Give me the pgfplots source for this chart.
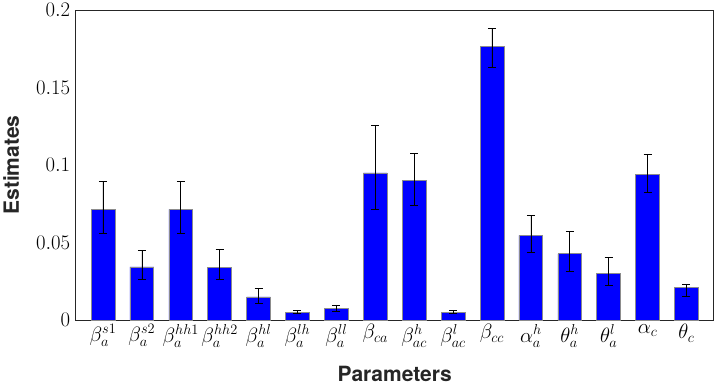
\documentclass[border=0pt]{standalone}
\usepackage{fontspec}
\setmainfont{TeX Gyre Heros}
\usepackage{pgfplots}
\pgfplotsset{compat=1.18}
\begin{document}
\begin{tikzpicture}
\begin{axis}[
  scale only axis,
  width=636bp, height=309bp,
  xmin=0.3, xmax=16.7, ymin=0, ymax=0.2,
  xtick={1,...,16},
  xticklabels={$\beta_a^{s1}$,$\beta_a^{s2}$,$\beta_a^{hh1}$,$\beta_a^{hh2}$,$\beta_a^{hl}$,$\beta_a^{lh}$,$\beta_a^{ll}$,$\beta_{ca}$,$\beta_{ac}^{h}$,$\beta_{ac}^{l}$,$\beta_{cc}$,$\alpha_a^{h}$,$\theta_a^{h}$,$\theta_a^{l}$,$\alpha_c$,$\theta_c$},
  ytick={0,0.05,0.1,0.15,0.2},
  yticklabels={$0$,$0.05$,$0.1$,$0.15$,$0.2$},
  major tick length=0pt,
  axis line style={draw=black!85, line width=0.6pt},
  tick label style={font=\fontsize{21}{24}\selectfont},
  xticklabel style={yshift=-1bp},
  yticklabel style={xshift=-2bp},
  label style={font=\fontsize{21}{24}\selectfont\bfseries, text=black!85},
  xlabel={Parameters},
  ylabel={Estimates},
  xlabel style={yshift=-12bp},
  ylabel style={yshift=10bp},
  clip=false,
]
\addplot[ybar, bar width=23.7bp, fill={rgb,1:red,0;green,0;blue,1}, draw=black!45, line width=0.6pt,
  error bars/.cd, y dir=both, y explicit,
  error bar style={black, line width=0.7pt},
  error mark options={black, line width=0.7pt, mark size=4bp, rotate=90}]
coordinates {
(1,0.0714) += (0,0.0179) -= (0,0.0153)
(2,0.0343) += (0,0.0108) -= (0,0.0082)
(3,0.0714) += (0,0.0179) -= (0,0.0153)
(4,0.0341) += (0,0.0114) -= (0,0.0080)
(5,0.0149) += (0,0.0052) -= (0,0.0039)
(6,0.0050) += (0,0.0010) -= (0,0.0007)
(7,0.0073) += (0,0.0024) -= (0,0.0017)
(8,0.0949) += (0,0.0305) -= (0,0.0233)
(9,0.0898) += (0,0.0179) -= (0,0.0156)
(10,0.0050) += (0,0.0010) -= (0,0.0007)
(11,0.1765) += (0,0.0118) -= (0,0.0132)
(12,0.0546) += (0,0.0129) -= (0,0.0112)
(13,0.0427) += (0,0.0145) -= (0,0.0112)
(14,0.0302) += (0,0.0104) -= (0,0.0077)
(15,0.0941) += (0,0.0125) -= (0,0.0117)
(16,0.0209) += (0,0.0020) -= (0,0.0056)
};
\end{axis}
\end{tikzpicture}
\end{document}
